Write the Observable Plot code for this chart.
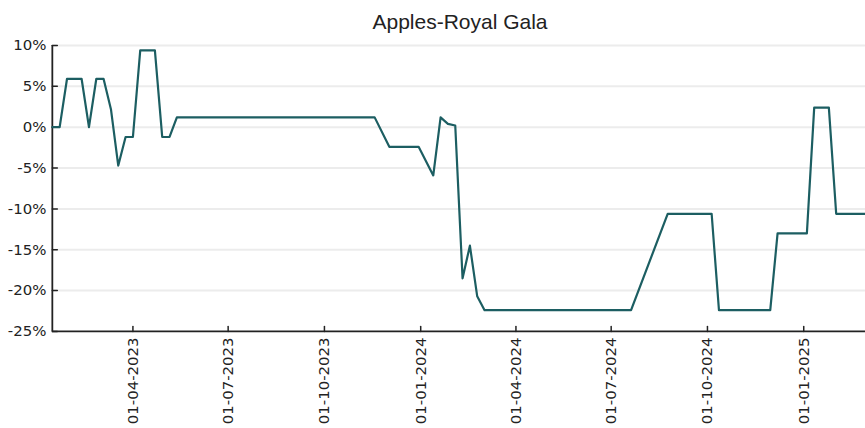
<!DOCTYPE html>
<html>
<head>
<meta charset="utf-8">
<script src="https://cdn.jsdelivr.net/npm/d3@7"></script>
<script src="https://cdn.jsdelivr.net/npm/@observablehq/plot@0.6"></script>
<style>
  html, body { margin: 0; padding: 0; background: #fff; overflow: hidden; }
  #title { width: 816px; padding-left: 52px; padding-top: 10px; height: 24px; line-height: 24px;
           text-align: center; font-family: "Liberation Sans", Arial, sans-serif; font-size: 21px; color: #222; }
  #chart svg { display: block; }
</style>
</head>
<body>
<div id="title">Apples-Royal Gala</div>
<div id="chart"></div>
<script>
// Weekly observations (vertices of the line), change in %
const dates = [
  "2023-01-14","2023-01-21","2023-01-28","2023-02-11","2023-02-18","2023-02-25","2023-03-04",
  "2023-03-11","2023-03-18","2023-03-25","2023-04-01","2023-04-08","2023-04-22","2023-04-29",
  "2023-05-06","2023-05-13","2023-11-18","2023-12-02","2023-12-30","2024-01-13","2024-01-20",
  "2024-01-27","2024-02-03","2024-02-10","2024-02-17","2024-02-24","2024-03-02","2024-07-20",
  "2024-08-24","2024-10-05","2024-10-12","2024-11-30","2024-12-07","2025-01-04","2025-01-11",
  "2025-01-25","2025-02-01","2025-03-01"
];
const values = [
  0, 0, 5.9, 5.9, 0, 5.9, 5.9,
  2.2, -4.7, -1.2, -1.2, 9.4, 9.4, -1.2,
  -1.2, 1.2, 1.2, -2.4, -2.4, -5.9, 1.2,
  0.4, 0.2, -18.5, -14.5, -20.7, -22.4, -22.4,
  -10.6, -10.6, -22.4, -22.4, -13.0, -13.0, 2.4,
  2.4, -10.6, -10.6
];
const xTickDates = ["2023-04-01","2023-07-01","2023-10-01","2024-01-01","2024-04-01","2024-07-01","2024-10-01","2025-01-01"];
const yTicks = [10, 5, 0, -5, -10, -15, -20, -25];
const xDomain = ["2023-01-14", "2025-03-01"];
const yDomain = [-25, 10];

const parse = d3.utcParse("%Y-%m-%d");
const data = dates.map((d, i) => ({date: parse(d), value: values[i]}));
const xTicks = xTickDates.map(parse);
const fmt = d3.utcFormat("%d-%m-%Y");

const tickShape = { draw(ctx, l) { ctx.moveTo(0, 0); ctx.lineTo(0, -l); } };

const chart = Plot.plot({
  width: 868,
  height: 394,
  marginTop: 11,
  marginLeft: 52,
  marginRight: 0,
  marginBottom: 96,
  style: { fontFamily: "'DejaVu Sans', Verdana, sans-serif", fontSize: "15px", color: "#222", background: "#fff" },
  x: { type: "utc", domain: xDomain.map(parse) },
  y: { domain: yDomain },
  marks: [
    Plot.gridY(yTicks.slice(0, -1), { stroke: "#ececec", strokeOpacity: 1, strokeWidth: 2 }),
    Plot.axisY(yTicks, { tickSize: 0, tickPadding: 6, tickFormat: d => `${d}%`, label: null, fontSize: 15 }),
    Plot.axisX(xTicks, { tickSize: 0, tickPadding: 6, tickRotate: -90, tickFormat: fmt, label: null, fontSize: 15 }),
    Plot.vector(yTicks, { y: d => d, frameAnchor: "left", length: 5, rotate: 90, anchor: "start", shape: tickShape, stroke: "#222", strokeWidth: 1.5 }),
    Plot.vector(xTicks, { x: d => d, frameAnchor: "bottom", length: 5, rotate: 0, anchor: "start", shape: tickShape, stroke: "#222", strokeWidth: 1.5 }),
    Plot.ruleY([yDomain[0]], { stroke: "#222", strokeWidth: 1.8 }),
    Plot.ruleX([parse(xDomain[0])], { stroke: "#222", strokeWidth: 1.8 }),
    Plot.line(data, { x: "date", y: "value", stroke: "#1c5e62", strokeWidth: 2.2 })
  ]
});
document.getElementById("chart").appendChild(chart);
</script>
</body>
</html>
